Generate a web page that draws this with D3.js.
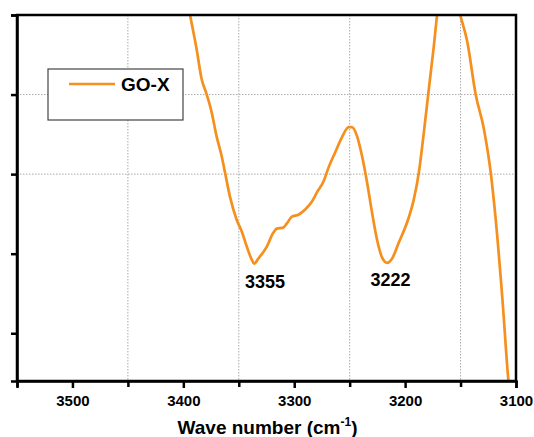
<!DOCTYPE html>
<html>
<head>
<meta charset="utf-8">
<script src="https://cdn.jsdelivr.net/npm/d3@7"></script>
<style>
	body { margin: 0; background: #fff; }
	svg { display: block; font-family: "Liberation Sans", Arial, sans-serif; }
</style>
</head>
<body>
<div id="chart"></div>
<script>
// wave number (cm-1) and transmittance (a.u.)
const waveNumber = [3395.9, 3394.1, 3388, 3383.5, 3379, 3374.5, 3370, 3365.4, 3362.4, 3358, 3352, 3347.3, 3342.8, 3338.3, 3336.2,
	3332.3, 3324.7, 3318.8, 3315.7, 3309.7, 3306.6, 3302.1, 3296.2, 3290.1, 3284, 3279.5, 3273.5, 3269, 3263, 3256.9, 3250.9,
	3247.9, 3243.3, 3238.8, 3234.3, 3229.8, 3225.3, 3220.7, 3216.2, 3211.7, 3205.7, 3196.7, 3192.2, 3187.6, 3183.1, 3178.6,
	3174.1, 3171, 3160.8, 3150.6, 3143.9, 3136.4, 3128.9, 3122.8, 3118.3, 3112.2, 3106.8, 3105.5]
const transmittance = [102.8, 100.2, 91.4, 83.9, 80.1, 75.6, 69.5, 64.5, 60.4, 54.4, 48.6, 45.6, 41.8, 38.5, 37.5,
	38.8, 41.8, 45.3, 46.3, 46.6, 47.6, 49.3, 49.8, 51.1, 53.1, 55.4, 58.2, 61.7, 65.5, 69.3, 71.8,
	71.8, 69.5, 64.5, 57.9, 50.3, 43.5, 39.0, 37.7, 38.8, 42.8, 49.1, 53.6, 60.4, 70.5, 81.4,
	92.2, 100.3, 111.6, 100.3, 93.2, 80.1, 71.3, 60.4, 48.6, 28.4, 8, 4.5]

const xMajor = [3500, 3400, 3300, 3200, 3100]
const xMinor = [3550, 3450, 3350, 3250, 3150]
const yTicks = [20, 40, 60, 80, 100]
const yGrid = [60, 80]
const peakLabels = [{ text: "3355", wn: 3326.3, t: 31.4 }, { text: "3222", wn: 3213.2, t: 31.9 }]
const seriesName = "GO-X"

const svgWidth = 534, svgHeight = 437
const margin = { left: 17, right: 18, top: 15, bottom: 56 }
const width = svgWidth - margin.left - margin.right,
	height = svgHeight - margin.top - margin.bottom
const orange = "#f5901e"

let svg = d3.select("#chart").append("svg")
	.attr("width", svgWidth)
	.attr("height", svgHeight)

let g = svg.append("g")
	.attr("transform", "translate(" + margin.left + ", " + margin.top + ")")

var x = d3.scaleLinear().domain([3550, 3100]).range([0, width])
var y = d3.scaleLinear().domain([8, 100]).range([height, 0])

// dotted grid
g.selectAll("line.vgrid").data(xMinor.slice(1)).enter().append("line")
	.attr("x1", d => x(d)).attr("x2", d => x(d))
	.attr("y1", 0).attr("y2", height)
	.attr("stroke", "#aaa").attr("stroke-width", 1).attr("stroke-dasharray", "1.5,1.5")
g.selectAll("line.hgrid").data(yGrid).enter().append("line")
	.attr("x1", 0).attr("x2", width)
	.attr("y1", d => y(d)).attr("y2", d => y(d))
	.attr("stroke", "#aaa").attr("stroke-width", 1).attr("stroke-dasharray", "1.5,1.5")

svg.append("clipPath").attr("id", "clip")
	.append("rect").attr("width", width).attr("height", height)

const data = waveNumber.map((w, i) => ({ w: w, t: transmittance[i] }))
g.append("path")
	.datum(data)
	.attr("clip-path", "url(#clip)")
	.attr("fill", "none")
	.attr("stroke", orange)
	.attr("stroke-width", 2.7)
	.attr("stroke-linejoin", "round")
	.attr("d", d3.line()
		.curve(d3.curveMonotoneX)
		.x(d => x(d.w))
		.y(d => y(d.t)))

// frame
g.append("rect")
	.attr("width", width).attr("height", height)
	.attr("fill", "none").attr("stroke", "#000").attr("stroke-width", 2.5)

// axes
var xAxisCall = d3.axisBottom(x).tickValues(xMajor).tickSize(7).tickPadding(7).tickFormat(d3.format("d"))
let xAxis = g.append("g")
	.attr("class", "x axis")
	.attr("transform", "translate(0, " + height + ")")
	.call(xAxisCall)
xAxis.append("g").call(d3.axisBottom(x).tickValues(xMinor).tickSize(6).tickFormat(""))
	.select(".domain").remove()

var yAxisCall = d3.axisLeft(y).tickValues(yTicks).tickSize(6).tickFormat("")
let yAxis = g.append("g").attr("class", "y axis").call(yAxisCall)

svg.selectAll(".axis .domain").attr("stroke-width", 2.5)
svg.selectAll(".axis .tick line").attr("stroke-width", 2.5)
xAxis.selectAll("text")
	.attr("font-size", "15px")
	.attr("font-weight", "bold")
	.attr("fill", "#000")
	.attr("font-family", "Liberation Sans, Arial, sans-serif")

// label
let label = g.append("text")
	.attr("x", width / 2 + 1)
	.attr("y", height + 53)
	.attr("font-size", "19px")
	.attr("font-weight", "bold")
	.attr("text-anchor", "middle")
	.text("Wave number (cm")
label.append("tspan").attr("font-size", "12px").attr("dy", -8).text("-1")
label.append("tspan").attr("dy", 8).text(")")

// peak annotations
g.selectAll("text.peak").data(peakLabels).enter().append("text")
	.attr("class", "peak")
	.attr("x", d => x(d.wn))
	.attr("y", d => y(d.t))
	.attr("text-anchor", "middle")
	.attr("font-size", "18px")
	.attr("font-weight", "bold")
	.text(d => d.text)

// legend
let legend = g.append("g").attr("transform", "translate(31, 54)")
legend.append("rect")
	.attr("width", 135).attr("height", 51)
	.attr("fill", "#fff").attr("stroke", "#444").attr("stroke-width", 1.2)
legend.append("line")
	.attr("x1", 21).attr("x2", 67).attr("y1", 15).attr("y2", 15)
	.attr("stroke", orange).attr("stroke-width", 2.7)
legend.append("text")
	.attr("x", 73).attr("y", 22)
	.attr("font-size", "19px").attr("font-weight", "bold")
	.text(seriesName)
</script>
</body>
</html>
